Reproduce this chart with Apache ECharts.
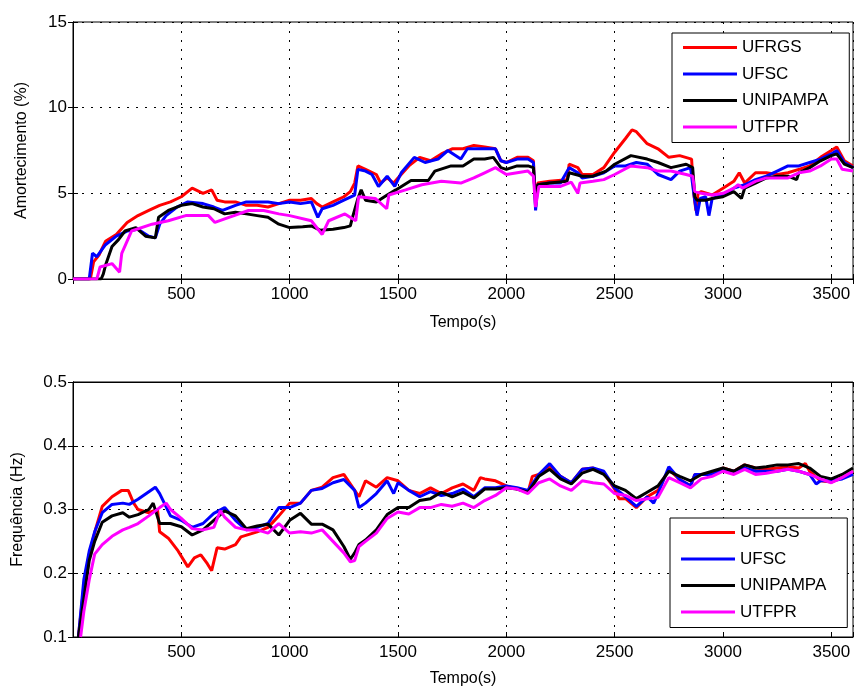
<!DOCTYPE html>
<html>
<head>
<meta charset="utf-8">
<script src="https://cdn.jsdelivr.net/npm/echarts@6/dist/echarts.min.js"></script>
<style>
html,body{margin:0;padding:0;background:#fff;}
#chart{width:856px;height:688px;}
</style>
</head>
<body>
<div id="chart"></div>
<script>
// ---- Data (time in s, value) ----
const seriesNames = ['UFRGS', 'UFSC', 'UNIPAMPA', 'UTFPR'];
const seriesColors = ['#ff0000', '#0000ff', '#000000', '#ff00ff'];

const xTicks = [0, 500, 1000, 1500, 2000, 2500, 3000, 3500];
const ampTicks = [0, 5, 10, 15];
const freqTicks = [0.1, 0.2, 0.3, 0.4, 0.5];

const ampUFRGS = [[0,0],[80,0],[95,1.0],[120,1.4],[150,2.2],[200,2.6],[250,3.3],[300,3.7],[350,4.0],[400,4.3],[450,4.5],[500,4.8],[550,5.3],[600,5.0],[640,5.2],[665,4.6],[700,4.5],[750,4.5],[800,4.3],[850,4.3],[900,4.2],[950,4.4],[1000,4.6],[1050,4.6],[1100,4.7],[1125,4.4],[1150,4.2],[1200,4.5],[1250,4.8],[1280,5.1],[1300,5.6],[1315,6.6],[1350,6.4],[1400,6.1],[1420,5.6],[1450,5.9],[1480,5.6],[1500,5.9],[1550,6.6],[1600,7.1],[1650,6.9],[1700,7.3],[1750,7.6],[1800,7.6],[1850,7.8],[1900,7.7],[1950,7.6],[1975,6.9],[2000,6.8],[2050,7.1],[2100,7.1],[2125,6.9],[2135,4.2],[2145,5.6],[2200,5.7],[2280,5.8],[2290,6.7],[2330,6.5],[2350,6.1],[2400,6.1],[2450,6.5],[2500,7.4],[2550,8.2],[2580,8.7],[2600,8.6],[2650,7.9],[2700,7.6],[2750,7.1],[2800,7.2],[2855,7.0],[2865,5.0],[2875,4.0],[2885,5.0],[2900,5.1],[2950,4.9],[3000,5.3],[3050,5.7],[3075,6.2],[3100,5.6],[3150,6.2],[3200,6.2],[3250,6.1],[3300,6.2],[3350,6.4],[3400,6.6],[3450,7.1],[3500,7.5],[3525,7.7],[3560,6.9],[3600,6.6]];
const ampUFSC = [[0,0],[75,0],[90,1.5],[110,1.3],[150,2.0],[200,2.5],[250,2.8],[300,2.9],[350,2.5],[380,2.4],[400,3.2],[430,3.7],[480,4.2],[530,4.5],[600,4.4],[650,4.2],[690,4.0],[750,4.3],[800,4.5],[850,4.5],[900,4.5],[950,4.4],[1000,4.5],[1050,4.4],[1100,4.5],[1130,3.6],[1150,4.1],[1200,4.3],[1250,4.6],[1300,4.9],[1315,6.4],[1350,6.3],[1380,6.1],[1410,5.4],[1450,6.0],[1485,5.4],[1515,6.2],[1575,7.1],[1625,6.8],[1685,7.0],[1730,7.5],[1790,7.0],[1820,7.6],[1900,7.6],[1950,7.6],[1975,6.9],[2000,6.8],[2050,7.0],[2100,7.0],[2125,6.8],[2135,4.0],[2145,5.5],[2200,5.6],[2250,5.6],[2290,6.5],[2330,6.2],[2350,5.9],[2400,6.0],[2450,6.2],[2500,6.6],[2550,6.6],[2600,6.8],[2650,6.7],[2700,6.1],[2760,5.8],[2800,6.3],[2850,6.5],[2865,5.0],[2880,3.7],[2895,4.7],[2920,4.8],[2935,3.7],[2950,4.7],[3000,4.9],[3050,5.3],[3100,5.5],[3150,5.8],[3200,6.0],[3250,6.3],[3300,6.6],[3350,6.6],[3400,6.8],[3450,7.0],[3500,7.3],[3525,7.5],[3560,6.8],[3600,6.5]];
const ampUNIPAMPA = [[0,0],[130,0],[140,0.3],[150,0.8],[180,1.9],[210,2.3],[240,2.8],[290,3.0],[335,2.5],[380,2.4],[395,3.6],[440,4.0],[500,4.3],[550,4.4],[600,4.2],[650,4.1],[700,3.8],[750,3.9],[800,3.8],[850,3.7],[900,3.6],[950,3.2],[1000,3.0],[1060,3.05],[1100,3.1],[1140,2.85],[1200,2.9],[1250,3.0],[1280,3.1],[1290,3.6],[1315,4.7],[1330,5.2],[1350,4.6],[1400,4.5],[1450,4.9],[1490,5.2],[1560,5.75],[1640,5.75],[1670,6.3],[1745,6.6],[1800,6.6],[1850,7.0],[1900,7.0],[1940,7.1],[1975,6.5],[2000,6.4],[2050,6.6],[2100,6.6],[2125,6.5],[2135,4.5],[2145,5.5],[2200,5.6],[2280,5.7],[2290,6.2],[2350,6.0],[2400,6.0],[2460,6.3],[2500,6.7],[2575,7.2],[2650,7.0],[2700,6.8],[2760,6.5],[2830,6.7],[2860,6.5],[2870,4.8],[2880,4.6],[2920,4.6],[2950,4.7],[3000,4.8],[3050,5.1],[3085,4.7],[3100,5.3],[3150,5.6],[3200,5.9],[3250,6.0],[3300,6.0],[3340,5.8],[3350,6.2],[3400,6.5],[3450,6.9],[3500,7.2],[3525,7.3],[3560,6.7],[3600,6.5]];
const ampUTFPR = [[0,0],[110,0],[125,0.7],[180,0.9],[215,0.4],[225,1.5],[270,2.8],[365,3.2],[440,3.4],[520,3.7],[625,3.7],[655,3.3],[720,3.6],[810,4.0],[880,4.0],[950,3.8],[1000,3.7],[1100,3.4],[1150,2.6],[1180,3.4],[1255,3.8],[1305,3.4],[1318,4.8],[1395,4.7],[1448,4.1],[1458,4.9],[1535,5.2],[1610,5.5],[1700,5.7],[1790,5.6],[1850,5.9],[1900,6.2],[1950,6.5],[2000,6.1],[2050,6.2],[2100,6.3],[2125,6.0],[2135,4.2],[2150,5.4],[2250,5.4],[2300,5.65],[2330,5.0],[2340,5.6],[2400,5.7],[2450,5.8],[2500,6.1],[2575,6.6],[2650,6.5],[2700,6.3],[2760,6.3],[2830,6.1],[2860,6.0],[2870,5.1],[2900,5.0],[2950,4.9],[3000,5.0],[3050,5.3],[3070,5.5],[3090,5.3],[3150,5.7],[3200,5.9],[3250,5.9],[3300,5.9],[3350,6.2],[3400,6.3],[3450,6.6],[3500,7.0],[3525,7.0],[3550,6.4],[3600,6.3]];

const freqUFRGS = [[25,0.1],[50,0.18],[75,0.23],[105,0.27],[135,0.305],[180,0.32],[225,0.33],[255,0.33],[280,0.31],[300,0.3],[350,0.295],[390,0.3],[400,0.265],[440,0.255],[485,0.235],[530,0.21],[560,0.224],[590,0.229],[620,0.215],[640,0.204],[665,0.24],[700,0.238],[750,0.245],[775,0.257],[850,0.265],[900,0.272],[950,0.29],[1000,0.31],[1050,0.31],[1100,0.33],[1150,0.335],[1200,0.35],[1250,0.355],[1300,0.33],[1320,0.32],[1350,0.345],[1400,0.335],[1450,0.35],[1500,0.345],[1550,0.33],[1600,0.325],[1650,0.334],[1700,0.325],[1750,0.334],[1800,0.34],[1850,0.33],[1880,0.35],[1900,0.348],[1950,0.345],[2000,0.337],[2050,0.332],[2100,0.327],[2120,0.352],[2150,0.355],[2200,0.368],[2250,0.352],[2300,0.342],[2350,0.363],[2400,0.365],[2450,0.357],[2500,0.332],[2520,0.317],[2550,0.317],[2600,0.303],[2650,0.32],[2700,0.33],[2750,0.363],[2800,0.347],[2850,0.337],[2870,0.355],[2900,0.355],[2950,0.357],[3000,0.365],[3050,0.36],[3100,0.37],[3150,0.365],[3200,0.363],[3250,0.365],[3300,0.367],[3350,0.365],[3380,0.372],[3400,0.36],[3450,0.345],[3500,0.343],[3550,0.35],[3600,0.36]];
const freqUFSC = [[25,0.1],[50,0.19],[75,0.235],[100,0.265],[135,0.295],[180,0.308],[230,0.31],[260,0.308],[300,0.316],[350,0.328],[380,0.335],[400,0.325],[450,0.29],[500,0.283],[550,0.272],[600,0.278],[650,0.294],[700,0.303],[750,0.283],[800,0.268],[850,0.272],[900,0.278],[950,0.303],[1000,0.303],[1050,0.31],[1100,0.33],[1150,0.333],[1200,0.342],[1250,0.347],[1300,0.33],[1320,0.303],[1350,0.31],[1400,0.325],[1450,0.345],[1480,0.325],[1500,0.342],[1550,0.33],[1600,0.32],[1650,0.328],[1700,0.322],[1750,0.325],[1800,0.332],[1850,0.32],[1900,0.334],[1950,0.334],[2000,0.337],[2050,0.334],[2100,0.33],[2150,0.355],[2200,0.372],[2250,0.352],[2300,0.342],[2350,0.363],[2400,0.365],[2450,0.36],[2500,0.334],[2550,0.32],[2600,0.305],[2650,0.32],[2680,0.31],[2700,0.325],[2750,0.367],[2800,0.347],[2850,0.337],[2870,0.355],[2900,0.355],[2950,0.355],[3000,0.362],[3050,0.36],[3100,0.365],[3150,0.36],[3200,0.36],[3250,0.36],[3300,0.363],[3350,0.36],[3400,0.355],[3430,0.34],[3450,0.345],[3500,0.345],[3550,0.348],[3600,0.355]];
const freqUNIPAMPA = [[25,0.1],[50,0.16],[75,0.22],[100,0.25],[135,0.28],[180,0.29],[230,0.295],[260,0.288],[300,0.292],[350,0.3],[370,0.31],[400,0.278],[450,0.278],[500,0.273],[550,0.26],[600,0.268],[650,0.283],[700,0.298],[750,0.29],[800,0.27],[850,0.274],[900,0.277],[950,0.26],[1000,0.283],[1050,0.294],[1100,0.277],[1150,0.277],[1200,0.268],[1250,0.242],[1280,0.222],[1300,0.232],[1320,0.245],[1350,0.252],[1400,0.268],[1450,0.292],[1500,0.303],[1550,0.303],[1600,0.314],[1650,0.317],[1700,0.327],[1750,0.32],[1800,0.327],[1850,0.318],[1900,0.332],[1950,0.332],[2000,0.334],[2050,0.332],[2100,0.327],[2150,0.352],[2200,0.363],[2250,0.348],[2300,0.34],[2350,0.357],[2400,0.363],[2450,0.355],[2500,0.337],[2550,0.33],[2600,0.317],[2650,0.327],[2700,0.337],[2750,0.36],[2800,0.352],[2850,0.345],[2900,0.355],[2950,0.36],[3000,0.365],[3050,0.36],[3100,0.37],[3150,0.365],[3200,0.367],[3250,0.37],[3300,0.37],[3350,0.372],[3400,0.365],[3450,0.352],[3500,0.348],[3550,0.355],[3600,0.365]];
const freqUTFPR = [[35,0.1],[50,0.14],[75,0.19],[100,0.23],[135,0.245],[180,0.258],[230,0.268],[260,0.272],[300,0.278],[350,0.29],[400,0.303],[430,0.31],[450,0.3],[500,0.286],[550,0.27],[600,0.268],[650,0.272],[680,0.298],[700,0.288],[750,0.272],[800,0.268],[850,0.268],[900,0.263],[950,0.278],[1000,0.263],[1050,0.265],[1100,0.263],[1150,0.268],[1200,0.25],[1250,0.232],[1280,0.218],[1300,0.22],[1320,0.242],[1350,0.25],[1400,0.263],[1450,0.286],[1500,0.296],[1550,0.293],[1600,0.303],[1650,0.303],[1700,0.308],[1750,0.305],[1800,0.31],[1850,0.303],[1900,0.314],[1950,0.322],[2000,0.334],[2050,0.332],[2100,0.325],[2150,0.342],[2200,0.348],[2250,0.337],[2300,0.33],[2350,0.345],[2400,0.342],[2450,0.34],[2500,0.325],[2550,0.322],[2600,0.314],[2650,0.317],[2700,0.319],[2750,0.35],[2800,0.342],[2850,0.334],[2900,0.348],[2950,0.352],[3000,0.36],[3050,0.355],[3100,0.363],[3150,0.355],[3200,0.357],[3250,0.36],[3300,0.363],[3350,0.36],[3400,0.355],[3450,0.348],[3500,0.342],[3550,0.35],[3600,0.36]];

const ampData = [ampUFRGS, ampUFSC, ampUNIPAMPA, ampUTFPR];
const freqData = [freqUFRGS, freqUFSC, freqUNIPAMPA, freqUTFPR];

// ---- Chart ----
const FONT = '"Liberation Sans", Arial, sans-serif';
const chart = echarts.init(document.getElementById('chart'), null, {renderer: 'canvas'});

const dotted = {show: true, lineStyle: {color: '#000', width: 1, type: [2, 7]}};
const tickIn = {show: true, inside: true, length: 5, lineStyle: {color: '#000'}};
const lineAx = {show: true, lineStyle: {color: '#000', width: 1}};

function xAxes(gridIndex, gap) {
  return [
    {gridIndex, type: 'value', min: 0, max: 3600, interval: 500, position: 'bottom',
     name: 'Tempo(s)', nameLocation: 'middle', nameGap: gap,
     nameTextStyle: {fontFamily: FONT, fontSize: 16, color: '#000'},
     axisLine: lineAx, axisTick: tickIn, splitLine: dotted,
     axisLabel: {fontFamily: FONT, fontSize: 17, color: '#000', margin: 7,
       formatter: v => (xTicks.indexOf(v) > 0 ? String(v) : '')}},
    {gridIndex, type: 'value', min: 0, max: 3600, interval: 500, position: 'top',
     axisLine: lineAx, axisTick: tickIn, splitLine: {show: false}, axisLabel: {show: false}}
  ];
}
function yAxes(gridIndex, name, ticks, gap, dec) {
  const min = ticks[0], max = ticks[ticks.length - 1], interval = ticks[1] - ticks[0];
  return [
    {gridIndex, type: 'value', min, max, interval, position: 'left',
     name, nameLocation: 'middle', nameGap: gap,
     nameTextStyle: {fontFamily: FONT, fontSize: 16, color: '#000'},
     axisLine: lineAx, axisTick: tickIn, splitLine: dotted,
     axisLabel: {fontFamily: FONT, fontSize: 17, color: '#000', margin: 6,
       formatter: v => v.toFixed(dec)}},
    {gridIndex, type: 'value', min, max, interval, position: 'right',
     axisLine: lineAx, axisTick: tickIn, splitLine: {show: false}, axisLabel: {show: false}}
  ];
}

const series = [];
seriesNames.forEach((n, i) => {
  series.push({name: n, type: 'line', xAxisIndex: 0, yAxisIndex: 0, data: ampData[i],
    showSymbol: false, symbol: 'none', lineStyle: {width: 3, color: seriesColors[i]},
    itemStyle: {color: seriesColors[i]}, clip: true, z: 3 + i});
});
seriesNames.forEach((n, i) => {
  series.push({name: n, type: 'line', xAxisIndex: 2, yAxisIndex: 2, data: freqData[i],
    showSymbol: false, symbol: 'none', lineStyle: {width: 3, color: seriesColors[i]},
    itemStyle: {color: seriesColors[i]}, clip: true, z: 3 + i});
});

const legendBase = {
  orient: 'vertical', data: seriesNames, icon: 'rect', itemWidth: 54, itemHeight: 3,
  itemGap: 9.5, textStyle: {fontFamily: FONT, fontSize: 17, color: '#000', lineHeight: 16},
  backgroundColor: '#fff', borderColor: '#000', borderWidth: 1,
  padding: [6, 21, 7, 11], selectedMode: false
};

chart.setOption({
  animation: false,
  backgroundColor: '#fff',
  grid: [
    {left: 73, top: 22, width: 782, height: 257, show: true, borderColor: '#000', borderWidth: 1, backgroundColor: 'transparent'},
    {left: 73, top: 382, width: 782, height: 257, show: true, borderColor: '#000', borderWidth: 1, backgroundColor: 'transparent'}
  ],
  xAxis: [...xAxes(0, 36), ...xAxes(1, 34)],
  yAxis: [...yAxes(0, 'Amortecimento (%)', ampTicks, 43, 0), ...yAxes(1, 'Frequência (Hz)', freqTicks, 47, 1)],
  legend: [
    Object.assign({}, legendBase, {left: 672, top: 33}),
    Object.assign({}, legendBase, {left: 670, top: 518})
  ],
  series
});
</script>
</body>
</html>
